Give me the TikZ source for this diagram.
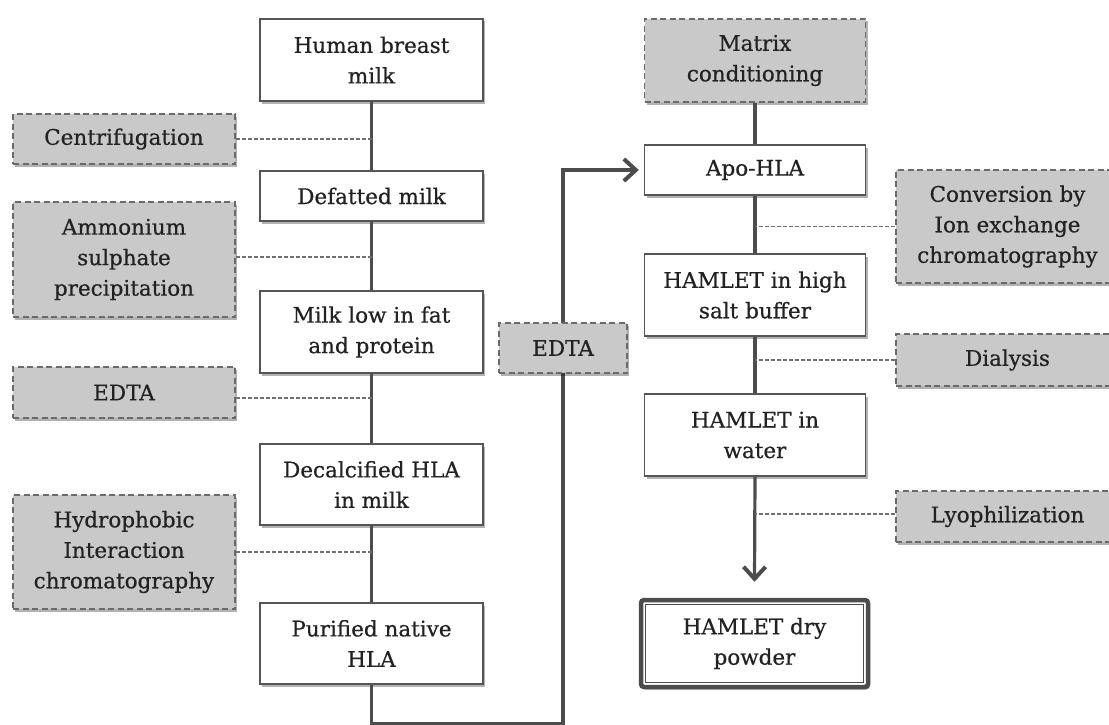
\documentclass[tikz,border=0pt]{standalone}
\usepackage{fontspec}
\setmainfont{DejaVu Serif}[FakeBold=0.6]
\usetikzlibrary{arrows.meta,shadows,calc}
\definecolor{linec}{HTML}{4C4C4C}
\definecolor{boxc}{HTML}{555555}
\definecolor{gboxc}{HTML}{6A6A6A}
\definecolor{grayf}{HTML}{C9C9C9}
\definecolor{linkc}{HTML}{707070}
\definecolor{txtc}{HTML}{222222}
\begin{document}
\begin{tikzpicture}[x=1pt,y=-1pt,
  every node/.style={font=\fontsize{21.5}{30.5}\selectfont, text=txtc, align=center, inner sep=0pt},
  shad/.style={drop shadow={shadow xshift=2pt, shadow yshift=-2.5pt, opacity=0.3, fill=black}},
  whitebox/.style={draw=boxc, line width=1.4pt, fill=white, shad},
  graybox/.style={draw=gboxc, dash pattern=on 6pt off 3.5pt, line width=1.5pt, fill=grayf, shad},
  spine/.style={draw=linec, line width=3.2pt},
  link/.style={draw=linkc, line width=1.1pt, dash pattern=on 4pt off 2pt},
  tip/.style={-{Straight Barb[length=12pt,width=22pt,line width=4pt]}}]
\useasboundingbox (0,0) rectangle (1109,725);

% left column
\node[whitebox, minimum width=223pt, minimum height=82pt] (hbm) at (371.5,60) {Human breast\\milk};
\node[whitebox, minimum width=223pt, minimum height=50pt] (dm) at (371.5,196) {Defatted milk};
\node[whitebox, minimum width=223pt, minimum height=82pt] (mlf) at (371.5,332) {Milk low in fat\\and protein};
\node[whitebox, minimum width=223pt, minimum height=81pt] (dhla) at (371.5,484.5) {Decalcified HLA\\in milk};
\node[whitebox, minimum width=223pt, minimum height=81pt] (pnh) at (371.5,643.5) {Purified native\\HLA};

\node[graybox, minimum width=222pt, minimum height=50pt] (cen) at (124,139) {Centrifugation};
\node[graybox, minimum width=222pt, minimum height=115pt] (amm) at (124,259.5) {Ammonium\\sulphate\\precipitation};
\node[graybox, minimum width=222pt, minimum height=51pt] (edl) at (124,392.5) {EDTA};
\node[graybox, minimum width=222pt, minimum height=114pt] (hic) at (124,552) {Hydrophobic\\Interaction\\chromatography};

% right column
\node[graybox, minimum width=221pt, minimum height=83pt] (mat) at (755,60.5) {Matrix\\conditioning};
\node[whitebox, minimum width=221pt, minimum height=50pt] (apo) at (755,170) {Apo-HLA};
\node[whitebox, minimum width=221pt, minimum height=82pt] (hsb) at (755,295) {HAMLET in high\\salt buffer};
\node[whitebox, minimum width=221pt, minimum height=82pt] (hw) at (755,435) {HAMLET in\\water};
\node[draw=linec, line width=4.5pt, rounded corners=3pt, fill=white, shad, minimum width=227pt, minimum height=87pt] (dry) at (754.5,643.5) {HAMLET dry\\powder};
\draw[draw=linec, line width=1.2pt] ([shift={(7,7)}]dry.north west) rectangle ([shift={(-7,-7)}]dry.south east);

\node[graybox, minimum width=223pt, minimum height=113pt] (conv) at (1007.5,226.5) {Conversion by\\Ion exchange\\chromatography};
\node[graybox, minimum width=223pt, minimum height=52pt] (dial) at (1007.5,360) {Dialysis};
\node[graybox, minimum width=223pt, minimum height=51pt] (lyo) at (1007.5,516.5) {Lyophilization};

% spines
\draw[spine] (hbm.south) -- (dm.north);
\draw[spine] (dm.south) -- (mlf.north);
\draw[spine] (mlf.south) -- (dhla.north);
\draw[spine] (dhla.south) -- (pnh.north);
\draw[spine, tip, shorten >=5pt] (pnh.south) -- ++(0,38.5) -- ++(191.5,0) |- (apo.west);
\node[graybox, minimum width=128pt, minimum height=50pt] (edm) at (563,348) {EDTA};

\draw[spine] (mat.south) -- (apo.north);
\draw[spine] (apo.south) -- (hsb.north);
\draw[spine] (hsb.south) -- (hw.north);
\draw[spine, tip] (hw.south) -- ([yshift=16pt]dry.north);

% dashed links
\coordinate (ls) at (371.5,0);
\coordinate (rs) at (755,0);
\draw[link] (cen.east) -- (cen.east -| ls);
\draw[link] ([yshift=2.5pt]amm.east) -- ([yshift=2.5pt]amm.east -| ls);
\draw[link] ([yshift=-5.5pt]edl.east) -- ([yshift=-5.5pt]edl.east -| ls);
\draw[link] (hic.east) -- (hic.east -| ls);
\draw[link] (conv.west) -- (conv.west -| rs);
\draw[link] (dial.west) -- (dial.west -| rs);
\draw[link] ([yshift=2.5pt]lyo.west) -- ([yshift=2.5pt]lyo.west -| rs);
\end{tikzpicture}
\end{document}
